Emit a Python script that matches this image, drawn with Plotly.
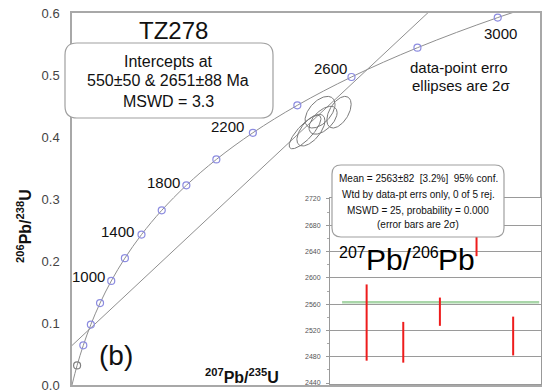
import numpy as np
import plotly.graph_objects as go

# ---------------- data ----------------
# concordia curve points (age in Ma) with 207Pb/235U and 206Pb/238U ratios
conc_age = [0, 200, 400, 600, 800, 1000, 1200, 1400, 1600, 1800, 2000, 2200, 2400, 2600, 2800, 3000, 3200]
conc_x207 = [0.0, 0.2177, 0.4828, 0.8057, 1.1988, 1.6774, 2.2604, 2.9702, 3.8345, 4.8870, 6.1687,
             7.7294, 9.6299, 11.944, 14.762, 18.194, 22.37]
conc_y206 = [0.0, 0.0315, 0.0640, 0.0975, 0.1321, 0.1678, 0.2046, 0.2426, 0.2817, 0.3221, 0.3638,
             0.4068, 0.4511, 0.4968, 0.5440, 0.5926, 0.6428]
marker_ages = [200, 400, 600, 800, 1000, 1200, 1400, 1600, 1800, 2000, 2200, 2400, 2600, 2800, 3000]
label_ages = [1000, 1400, 1800, 2200, 2600, 3000]

# discordia intercepts (550 Ma and 2651 Ma)
intercept_ages = [550, 2651]
intercept_x207 = [0.719, 12.611]
intercept_y206 = [0.0891, 0.5087]

# data-point error ellipses (2 sigma)
ell_x = [9.96, 10.21, 10.60, 10.73, 11.41]
ell_y = [0.408, 0.411, 0.440, 0.427, 0.440]
ell_sx = [0.68, 0.60, 0.64, 0.60, 0.52]
ell_sy = [0.0270, 0.0255, 0.0255, 0.0225, 0.0255]
ell_rho = [0.80, 0.60, 0.50, 0.55, 0.50]

# inset: 207Pb/206Pb ages with 2 sigma bars
inset_n = [1, 2, 3, 4, 5]
inset_lo = [2474, 2471, 2527, 2633, 2482]
inset_hi = [2590, 2533, 2570, 2725, 2541]
inset_mean = 2563
inset_ticks = [2440, 2480, 2520, 2560, 2600, 2640, 2680, 2720]

# ---------------- geometry helpers ----------------
W, H = 554, 392
L, R, T, B = 72, 544, 13, 385


def px(x):
    return (x - L) / (R - L)


def py(y):
    return (B - y) / (B - T)


def rrect(x0, y0, x1, y1, r):
    def P(x, y):
        return f"{px(x):.5f},{py(y):.5f}"
    return (f"M {P(x0 + r, y0)} L {P(x1 - r, y0)} Q {P(x1, y0)} {P(x1, y0 + r)} "
            f"L {P(x1, y1 - r)} Q {P(x1, y1)} {P(x1 - r, y1)} L {P(x0 + r, y1)} "
            f"Q {P(x0, y1)} {P(x0, y1 - r)} L {P(x0, y0 + r)} Q {P(x0, y0)} {P(x0 + r, y0)} Z")


FONT = "Liberation Sans, Arial, sans-serif"
fig = go.Figure()

# concordia curve
fig.add_trace(go.Scatter(x=conc_x207, y=conc_y206, mode="lines", line=dict(color="#8f8f8f", width=1, shape="spline"),
                         xaxis="x", yaxis="y", hoverinfo="skip", showlegend=False))
# discordia line extended across the plot
slope = (intercept_y206[1] - intercept_y206[0]) / (intercept_x207[1] - intercept_x207[0])
dx = [0.0, 17.0]
dy = [intercept_y206[0] + slope * (v - intercept_x207[0]) for v in dx]
fig.add_trace(go.Scatter(x=dx, y=dy, mode="lines", line=dict(color="#8f8f8f", width=1),
                         xaxis="x", yaxis="y", hoverinfo="skip", showlegend=False))
# ellipses
t = np.linspace(0, 2 * np.pi, 120)
for cx, cy, sx, sy, rho in zip(ell_x, ell_y, ell_sx, ell_sy, ell_rho):
    ex = cx + sx * np.cos(t)
    ey = cy + sy * (rho * np.cos(t) + np.sqrt(1 - rho ** 2) * np.sin(t))
    fig.add_trace(go.Scatter(x=ex, y=ey, mode="lines", line=dict(color="#7a7a7a", width=1),
                             xaxis="x", yaxis="y", hoverinfo="skip", showlegend=False))
# age markers
mx = [conc_x207[conc_age.index(a)] for a in marker_ages]
my = [conc_y206[conc_age.index(a)] for a in marker_ages]
mcol = ["#808080"] + ["#8c8ce0"] * (len(marker_ages) - 1)
fig.add_trace(go.Scatter(x=mx, y=my, mode="markers",
                         marker=dict(symbol="circle-open", size=7, color=mcol, line=dict(width=1.2)),
                         xaxis="x", yaxis="y", hoverinfo="skip", showlegend=False))

# inset traces
bx, by = [], []
for n, lo, hi in zip(inset_n, inset_lo, inset_hi):
    bx += [n, n, None]
    by += [lo, hi, None]
fig.add_trace(go.Scatter(x=[0.33, 5.71], y=[inset_mean, inset_mean], mode="lines",
                         line=dict(color="#a9d6a9", width=2.5), xaxis="x2", yaxis="y2",
                         hoverinfo="skip", showlegend=False))
fig.add_trace(go.Scatter(x=bx, y=by, mode="lines", line=dict(color="#ee1c1c", width=2),
                         xaxis="x2", yaxis="y2", hoverinfo="skip", showlegend=False))

# ---------------- layout ----------------
axc = "#a8a8a8"
fig.update_layout(
    width=W, height=H, autosize=False, showlegend=False,
    margin=dict(l=L, r=W - R, t=T, b=H - B, pad=0, autoexpand=False),
    paper_bgcolor="white", plot_bgcolor="white",
    font=dict(family=FONT, color="#222"),
    xaxis=dict(domain=[0, (540 - L) / (R - L)], range=[0, 20], showticklabels=False, ticks="",
               automargin=False,
               showgrid=False, zeroline=False, showline=True, linecolor=axc, linewidth=1.5, mirror=True),
    yaxis=dict(domain=[0, 1], range=[0, 0.6], dtick=0.1, tickformat=".1f", ticks="",
               automargin=False, ticklabeloverflow="allow",
               ticklabelstandoff=8, tickfont=dict(size=13, color="#444"),
               showgrid=False, zeroline=False, showline=True, linecolor=axc, linewidth=1.5, mirror=True),
    xaxis2=dict(domain=[px(330), px(541)], range=[0, 5.76], anchor="y2", showticklabels=False,
                automargin=False,
                ticks="", showgrid=False, zeroline=False, showline=True, linecolor="#999", linewidth=1,
                mirror=True),
    yaxis2=dict(domain=[py(384), py(198)], range=[2438.5, 2721.5], anchor="x2", tickvals=inset_ticks,
                automargin=False, ticklabeloverflow="allow",
                tickfont=dict(size=7, color="#555"), ticks="outside", ticklen=3, tickcolor="#999",
                ticklabelstandoff=4,
                minor=dict(dtick=20, ticks="outside", ticklen=2, tickcolor="#aaa"),
                showgrid=True, gridcolor="#9a9a9a", gridwidth=1, zeroline=False,
                showline=True, linecolor="#999", linewidth=1, mirror=True),
)

shapes = [
    dict(type="path", xref="paper", yref="paper", path=rrect(65, 43, 273, 118, 12),
         line=dict(color="#a0a0a0", width=1.2), fillcolor="white", layer="above"),
    dict(type="path", xref="paper", yref="paper", path=rrect(332, 165, 504, 237, 9),
         line=dict(color="#a0a0a0", width=1.2), fillcolor="white", layer="above"),
]
fig.update_layout(shapes=shapes)

ann = []


def text(x, y, s, size, bold=False, color="#111", xanchor="center", angle=0):
    if bold:
        s = "<b>" + s + "</b>"
    ann.append(dict(x=px(x), y=py(y), xref="paper", yref="paper", text=s, showarrow=False,
                    xanchor=xanchor, yanchor="middle", textangle=angle,
                    font=dict(size=size, color=color, family=FONT)))


text(173, 31, "TZ278", 24)
text(168, 61, "Intercepts at", 16)
text(168, 81, "550±50 &amp; 2651±88 Ma", 16)
text(168, 101, "MSWD = 3.3", 16)
text(459, 67, "data-point erro", 15)
text(461, 85, "ellipses are 2σ", 15)
text(116, 355, "(b)", 28)
text(242, 376, "<sup>207</sup>Pb/<sup>235</sup>U", 16, bold=True)
text(24, 226, "<sup>206</sup>Pb/<sup>238</sup>U", 16, bold=True, angle=-90)

text(418, 178, "Mean = 2563±82  [3.2%]  95% conf.", 10)
text(418, 194, "Wtd by data-pt errs only, 0 of 5 rej.", 10)
text(418, 210, "MSWD = 25, probability = 0.000", 10)
text(418, 225, "(error bars are 2σ)", 10)
# 207Pb/206Pb title in the inset, built from pieces
text(337, 252, "207", 16, color="#000", xanchor="left")
text(364, 259, "Pb/", 30, color="#000", xanchor="left")
text(410, 252, "206", 16, color="#000", xanchor="left")
text(436, 259, "Pb", 30, color="#000", xanchor="left")

# concordia age labels (offsets in px)
label_off = {1000: (-23, 4), 1400: (-24, 3), 1800: (-23, 3), 2200: (-25, 6), 2600: (-21, 8), 3000: (3, -16)}
for a in label_ages:
    i = conc_age.index(a)
    ox, oy = label_off[a]
    ann.append(dict(x=conc_x207[i], y=conc_y206[i], xref="x", yref="y", text=str(a), showarrow=False,
                    xshift=ox, yshift=oy, xanchor="center", yanchor="middle",
                    font=dict(size=15, color="#111", family=FONT)))

fig.update_layout(annotations=ann)
fig.write_html("out.html", config={"displayModeBar": False, "responsive": False},
               post_script="document.body.style.margin='0';document.body.style.overflow='hidden';")
